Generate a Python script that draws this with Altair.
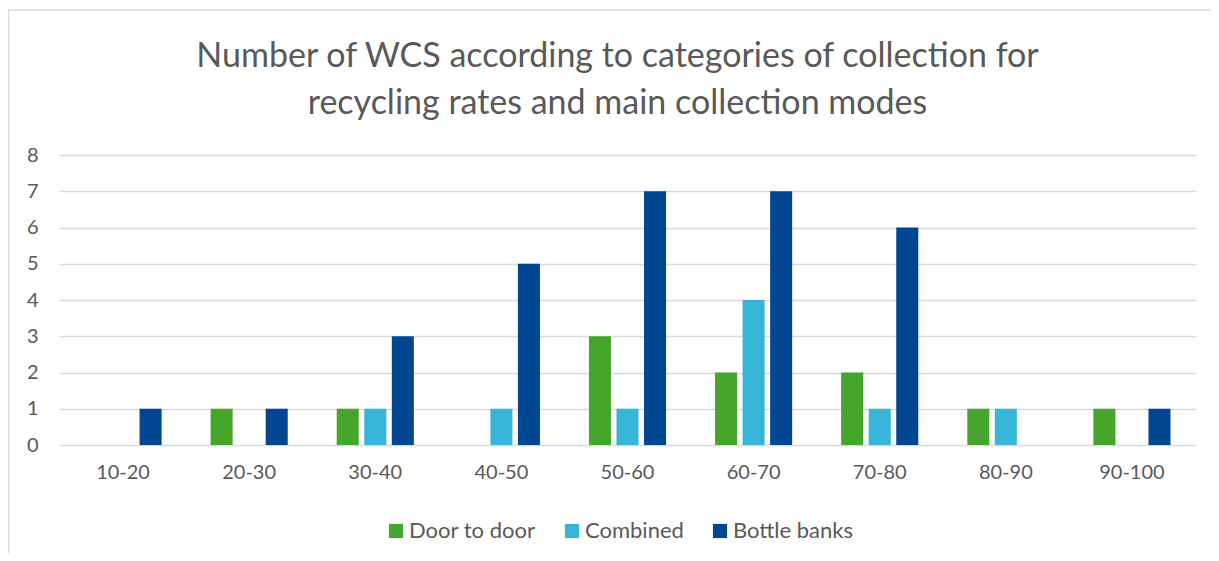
import altair as alt
import pandas as pd

categories = ["10-20", "20-30", "30-40", "40-50", "50-60", "60-70", "70-80", "80-90", "90-100"]
modes = ["Door to door", "Combined", "Bottle banks"]
door_to_door = [0, 1, 1, 0, 3, 2, 2, 1, 1]
combined = [0, 0, 1, 1, 1, 4, 1, 1, 0]
bottle_banks = [1, 1, 3, 5, 7, 7, 6, 0, 1]
colors = ["#46A52B", "#36B5D8", "#004691"]

rows = []
for i, c in enumerate(categories):
    for m, vals in zip(modes, [door_to_door, combined, bottle_banks]):
        rows.append({"range": c, "mode": m, "count": vals[i]})
df = pd.DataFrame(rows)

FONT = "Lato"
GREY = "#595959"

bars = alt.Chart(df).mark_bar().encode(
    x=alt.X("range:N", sort=categories,
            scale=alt.Scale(paddingInner=0.345, paddingOuter=0.1725),
            axis=alt.Axis(title=None, labelAngle=0, ticks=False, domain=False,
                          labelPadding=17, labelFontSize=20, labelColor=GREY, labelFont=FONT)),
    xOffset=alt.XOffset("mode:N", sort=modes, scale=alt.Scale(paddingInner=0.2, paddingOuter=0.1)),
    y=alt.Y("count:Q", scale=alt.Scale(domain=[0, 8], nice=False),
            axis=alt.Axis(title=None, values=list(range(9)), ticks=False, domain=False,
                          labelPadding=22, labelFontSize=20, labelColor=GREY, labelFont=FONT,
                          grid=True, gridColor="#d9d9d9", gridWidth=1.3)),
    color=alt.Color("mode:N", sort=modes,
                    scale=alt.Scale(domain=modes, range=colors),
                    legend=alt.Legend(title=None, orient="none", legendX=325, legendY=365,
                                      direction="horizontal", symbolType="square", symbolSize=200,
                                      symbolStrokeWidth=0, labelFontSize=22, labelColor=GREY,
                                      labelFont=FONT, labelOffset=2, columnPadding=25)),
)

border_df = pd.DataFrame({"k": [0]})
left_border = alt.Chart(border_df).mark_rule(color="#d9d9d9", strokeWidth=1.5).encode(
    x=alt.value(-51.5), y=alt.value(-145), y2=alt.value(400))
top_border = alt.Chart(border_df).mark_rule(color="#d9d9d9", strokeWidth=1.5).encode(
    x=alt.value(-51.5), x2=alt.value(1160), y=alt.value(-145))

chart = alt.layer(left_border, top_border, bars).properties(
    width=1135, height=290,
    title=alt.TitleParams(
        ["Number of WCS according to categories of collection for",
         "recycling rates and main collection modes"],
        anchor="middle", frame="group", fontSize=34, font=FONT, fontWeight="normal", color=GREY,
        lineHeight=47, offset=0, dy=112, dx=-10),
    padding={"left": 52, "top": 147, "right": 16, "bottom": 108},
    autosize=alt.AutoSizeParams(type="none"),
).configure_view(stroke=None)

chart.save("out.html", embed_options={"renderer": "svg", "actions": False})
